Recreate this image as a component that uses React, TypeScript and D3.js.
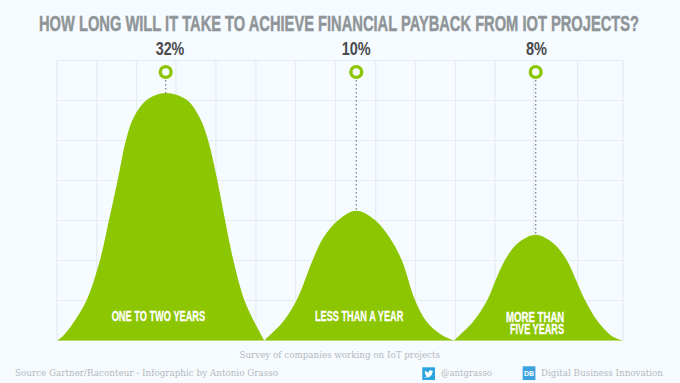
import React from "react";
import * as d3 from "d3";

const TITLE = "HOW LONG WILL IT TAKE TO ACHIEVE FINANCIAL PAYBACK FROM IOT PROJECTS?";
const shares = ["32%", "10%", "8%"];
const peakX = [108.7, 299.3, 478.7];
const peakY = [247.5, 129.8, 105.8];
const gridX = [0, 39.7, 79.5, 119, 159, 199, 238.5, 278.5, 318.7, 358.5, 398.5, 438, 477, 520.7, 566];
const gridY = [0, 40, 80, 120, 160, 200, 240, 280];
// Outlines, in plot units (x from left edge, y from baseline)
const hump1X = [0, 5.3, 16, 29.7, 43, 52, 60.7, 69, 76.3, 89.7, 108.7, 130, 143, 151, 160.3, 168, 176.3, 187.3, 198, 207.3];
const hump1Y = [0, 3.8, 17.2, 40.5, 80.5, 120.5, 160.5, 200.5, 222.2, 240.5, 247.5, 240.5, 222.2, 200.5, 160.5, 120.5, 80.5, 40.5, 17.2, 0];
const hump2X = [207.3, 213, 226, 239.7, 255.7, 266, 281.3, 299.3, 318, 333, 344.7, 358, 369.7, 384.7, 397];
const hump2Y = [0, 5.5, 18.8, 40.5, 80.5, 102.2, 120.5, 129.8, 120.5, 102.2, 80.5, 40.5, 18.8, 5.5, 0];
const hump3X = [397, 401, 416, 430.3, 438, 448, 461, 478.7, 496, 509.7, 519.7, 528, 541, 556, 566];
const hump3Y = [0, 3.8, 18.8, 40.5, 58.8, 80.5, 97.5, 105.8, 97.5, 80.5, 58.8, 40.5, 18.8, 3.8, 0];
const humps: [number[], number[]][] = [[hump1X, hump1Y], [hump2X, hump2Y], [hump3X, hump3Y]];

const W = 680, H = 383;
const plotL = 57, plotR = 623, plotB = 340.5, plotT = 60.5;
const x = d3.scaleLinear().domain([0, 566]).range([plotL, plotR]);
const y = d3.scaleLinear().domain([0, 280]).range([plotB, plotT]);
const humpPath = (xs: number[], ys: number[]) =>
  d3.area<number>()
    .x((_, i) => x(xs[i]))
    .y0(plotB)
    .y1((d) => Math.max(y(d), y(0) - 300))
    .curve(d3.curveCatmullRom.alpha(0.5))(ys) ?? "";

const GREEN = "#8cc600";
const BG = "#f6fbff";
const SANS = "'Liberation Sans',Arial,sans-serif";
const SLAB = "'DejaVu Serif','Liberation Serif',serif";
const FOOT = "#b5b9bd";

const shareLabels = [[155.7, 28.6], [341.7, 29], [526, 21]];
const catLabels: [string, number, number, number][] = [
  ["ONE TO TWO YEARS", 111.7, 321, 93.5],
  ["LESS THAN A YEAR", 315, 321, 88.3],
  ["MORE THAN", 506, 321.7, 58.3],
  ["FIVE YEARS", 510, 333.5, 54],
];

export default function App() {
  return (
    <svg width={W} height={H} style={{ position: "absolute", left: 0, top: 0, background: BG }}>
      <rect width={W} height={H} fill={BG} />
      <g stroke="#e8ecf0" strokeWidth={1.2}>
        {gridX.map((g) => <line key={g} x1={x(g)} x2={x(g)} y1={plotT} y2={plotB} />)}
        {gridY.map((g) => <line key={g} x1={plotL} x2={plotR} y1={y(g)} y2={y(g)} />)}
      </g>
      {humps.map(([xs, ys], i) => <path key={i} d={humpPath(xs, ys)} fill={GREEN} />)}
      <text transform="translate(39,31) scale(0.72,1)" fontFamily={SANS} fontWeight={700} fontSize={21.4} fill="#8f9598" stroke="#8f9598" strokeWidth={0.5} textLength={600 / 0.72} lengthAdjust="spacingAndGlyphs">{TITLE}</text>
      {shares.map((s, i) => (
        <g key={s}>
          <line x1={x(peakX[i])} x2={x(peakX[i])} y1={80} y2={y(peakY[i])} stroke="#7f858a" strokeWidth={1.3} strokeDasharray="1.4 2.6" />
          <circle cx={x(peakX[i])} cy={72} r={5.4} fill={BG} stroke={GREEN} strokeWidth={3.4} />
          <text x={shareLabels[i][0]} y={55} fontFamily={SANS} fontWeight={700} fontSize={18} fill="#4a4a4c" textLength={shareLabels[i][1]} lengthAdjust="spacingAndGlyphs">{s}</text>
        </g>
      ))}
      {catLabels.map(([t, lx, ly, len]) => (
        <text key={t} x={lx} y={ly} fontFamily={SANS} fontWeight={700} fontSize={14} fill="#fff" stroke="#fff" strokeWidth={0.3} textLength={len} lengthAdjust="spacingAndGlyphs">{t}</text>
      ))}
      <text x={239.5} y={357.5} fontFamily={SLAB} fontSize={10} fill={FOOT} textLength={200.5} lengthAdjust="spacingAndGlyphs">Survey of companies working on IoT projects</text>
      <text x={15} y={375.5} fontFamily={SLAB} fontSize={10} fill={FOOT} textLength={263} lengthAdjust="spacingAndGlyphs">Source Gartner/Raconteur - Infographic by Antonio Grasso</text>
      <rect x={422.3} y={367.3} width={12.7} height={12.7} fill="#2aa3df" />
      <path d="M424 377c3 1.500 8 0 8.500-5l1-1.200-1.300.3c-1-1.500-3.500-.8-3.500 1.300-1.500 0-2.800-.7-3.700-1.800-.5 1 0 2 .6 2.500l-.9-.2c0 1 .7 1.800 1.600 2l-.8.100c.3.700 1 1.100 1.700 1.200-.8.600-1.700.8-2.200.8z" fill="#fff" />
      <text x={441} y={376} fontFamily={SLAB} fontSize={10} fill={FOOT} textLength={51} lengthAdjust="spacingAndGlyphs">@antgrasso</text>
      <rect x={522.7} y={366.3} width={12.7} height={13.7} fill="#3ba1e0" />
      <text x={524} y={376} fontFamily={SANS} fontWeight={700} fontSize={8} fill="#fff" textLength={10} lengthAdjust="spacingAndGlyphs">DB</text>
      <text x={541} y={376} fontFamily={SLAB} fontSize={10} fill={FOOT} textLength={122} lengthAdjust="spacingAndGlyphs">Digital Business Innovation</text>
    </svg>
  );
}
